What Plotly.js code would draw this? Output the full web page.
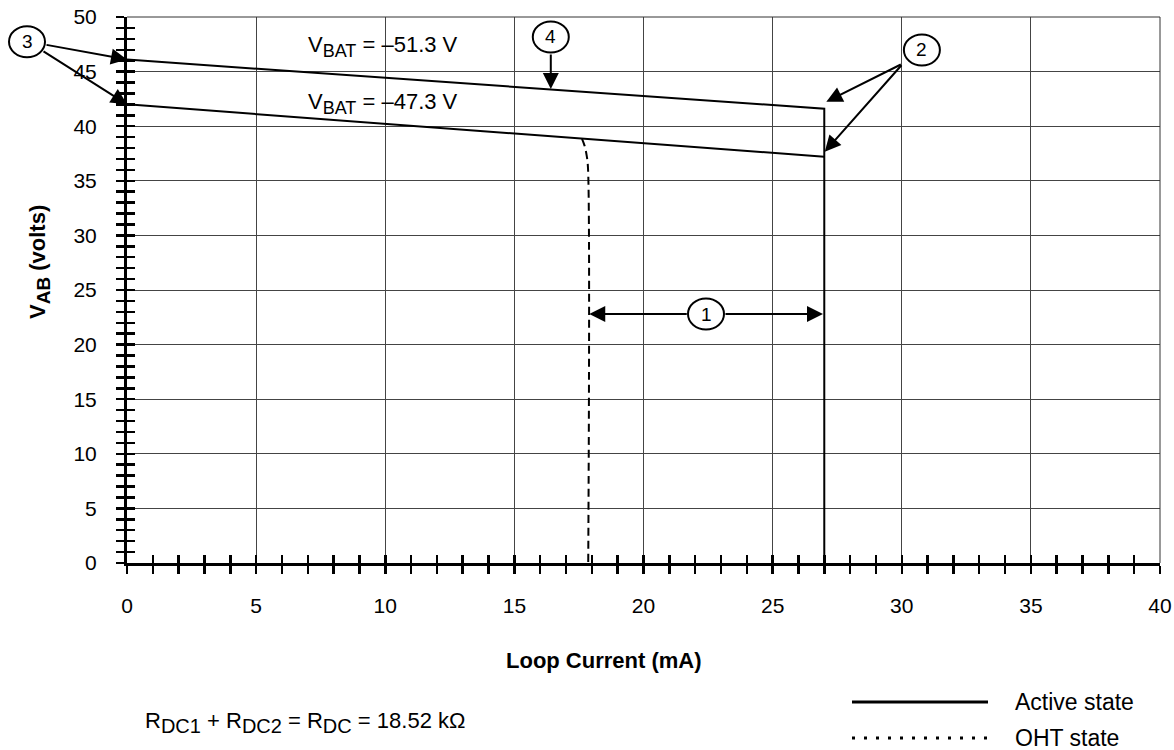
<!DOCTYPE html>
<html>
<head>
<meta charset="utf-8">
<script src="https://cdn.plot.ly/plotly-3.0.1.min.js"></script>
<style>html,body{margin:0;padding:0;background:#fff;}#chart{width:1174px;height:750px;}</style>
</head>
<body>
<div id="chart"></div>
<script>
// ---- data ----
const activeUpperX = [0, 27, 27];
const activeUpperY = [46.1, 41.6, 0];
const activeLowerX = [0, 27];
const activeLowerY = [42.0, 37.2];
const ohtX = [17.62, 17.72, 17.8, 17.85, 17.86];
const ohtY = [38.85, 38.2, 37.3, 36.2, 0];
const xTickVals = [0, 5, 10, 15, 20, 25, 30, 35, 40];
const yTickVals = [0, 5, 10, 15, 20, 25, 30, 35, 40, 45, 50];
const SUB = (t, px) => "<sub><span style='font-size:" + px + "px'>" + t + "</span></sub>";
const vbatLabels = ["V" + SUB("BAT", 18) + " = \u201351.3 V", "V" + SUB("BAT", 18) + " = \u201347.3 V"];
const legendLabels = ["Active state", "OHT state"];
const footnote = "R" + SUB("DC1", 20) + " + R" + SUB("DC2", 20) + " = R" + SUB("DC", 20) + " = 18.52 k\u03A9";
const xTitle = "<b>Loop Current (mA)</b>";
const yTitle = "<b>V" + SUB("AB", 19) + " (volts)</b>";

const FONT = "Liberation Sans, Arial, Helvetica, sans-serif";
const INK = "#000";

const traces = [
  {x: activeUpperX, y: activeUpperY, mode: "lines", line: {color: INK, width: 2}, showlegend: false, hoverinfo: "skip"},
  {x: activeLowerX, y: activeLowerY, mode: "lines", line: {color: INK, width: 2}, showlegend: false, hoverinfo: "skip"},
  {x: ohtX, y: ohtY, mode: "lines", line: {color: INK, width: 2, dash: "8px,5px", shape: "spline"}, showlegend: false, hoverinfo: "skip"},
  {x: [], y: [], xaxis: "x2", yaxis: "y2", showlegend: false, hoverinfo: "skip"}
];

function circleShape(xref, xc, yc) {
  return {type: "circle", xref: xref, yref: "y", xsizemode: "pixel", ysizemode: "pixel",
    xanchor: xc, yanchor: yc, x0: -18, x1: 18, y0: -15.5, y1: 15.5,
    line: {color: INK, width: 2}, fillcolor: "#fff", layer: "above"};
}
function numLabel(xref, xc, yc, t) {
  return {xref: xref, yref: "y", x: xc, y: yc, text: t, showarrow: false,
    font: {family: FONT, size: 19, color: INK}, xanchor: "center", yanchor: "middle"};
}
function arrow(x, y, ax, ay) {
  return {xref: "x", yref: "y", x: x, y: y, ax: ax, ay: ay, text: "", showarrow: true,
    arrowhead: 2, arrowsize: 1.6, arrowwidth: 2, arrowcolor: INK, standoff: 0, startstandoff: 0};
}

const circles = [
  {xref: "x", x: 22.42, y: 22.8, t: "1"},
  {xref: "x", x: 30.78, y: 46.98, t: "2"},
  {xref: "paper", x: -0.0968, y: 47.74, t: "3"},
  {xref: "x", x: 16.41, y: 48.17, t: "4"}
];

const shapes = [
  {type: "line", xref: "paper", yref: "paper", x0: 0, x1: 1, y0: 1, y1: 1, line: {color: "#333", width: 1}},
  {type: "line", xref: "paper", yref: "paper", x0: 1, x1: 1, y0: 0, y1: 1, line: {color: "#333", width: 1}},
  // legend samples
  {type: "line", xref: "paper", yref: "paper", x0: (852-127)/1033, x1: (988-127)/1033, y0: (563-702)/546, y1: (563-702)/546, line: {color: INK, width: 3}},
  {type: "line", xref: "paper", yref: "paper", x0: (852-127)/1033, x1: (990-127)/1033, y0: (563-738)/546, y1: (563-738)/546, line: {color: INK, width: 3, dash: "3px,9px"}}
];
circles.forEach(c => shapes.push(circleShape(c.xref, c.x, c.y)));

const annotations = [
  // circle 3 arrows
  arrow(0, 46.1, -82, -15),
  arrow(0, 42.0, -85, -54),
  // circle 2 arrows
  arrow(27.08, 42.24, 76, -38),
  arrow(27.02, 37.66, 78, -88),
  // circle 4 arrow
  arrow(16.41, 43.4, 0, -36),
  // circle 1 double arrow
  arrow(17.9, 22.8, 99, 0),
  arrow(26.95, 22.8, -99, 0),
  // VBAT labels
  {xref: "x", yref: "y", x: 6.93, y: 47.3, text: vbatLabels[0], showarrow: false, xanchor: "left", yanchor: "middle", font: {family: FONT, size: 22, color: INK}},
  {xref: "x", yref: "y", x: 6.93, y: 42.1, text: vbatLabels[1], showarrow: false, xanchor: "left", yanchor: "middle", font: {family: FONT, size: 22, color: INK}},
  // axis titles
  {xref: "paper", yref: "paper", x: 0.4618, y: -0.1777, text: xTitle, showarrow: false, xanchor: "center", yanchor: "middle", font: {family: FONT, size: 22, color: INK}},
  {xref: "paper", yref: "paper", x: -0.0842, y: 0.5513, text: yTitle, showarrow: false, textangle: -90, xanchor: "center", yanchor: "middle", font: {family: FONT, size: 22, color: INK}},
  // legend text
  {xref: "paper", yref: "paper", x: (1013-127)/1033, y: (563-702)/546, text: legendLabels[0], showarrow: false, xanchor: "left", yanchor: "middle", font: {family: FONT, size: 23, color: INK}},
  {xref: "paper", yref: "paper", x: (1013-127)/1033, y: (563-738)/546, text: legendLabels[1], showarrow: false, xanchor: "left", yanchor: "middle", font: {family: FONT, size: 23, color: INK}},
  // footnote
  {xref: "paper", yref: "paper", x: (143-127)/1033, y: (563-722)/546, text: footnote, showarrow: false, xanchor: "left", yanchor: "middle", font: {family: FONT, size: 22, color: INK}}
];
circles.forEach(c => annotations.push(numLabel(c.xref, c.x, c.y, c.t)));

const layout = {
  width: 1174, height: 750,
  margin: {l: 127, r: 14, t: 17, b: 187},
  paper_bgcolor: "#fff", plot_bgcolor: "#fff",
  font: {family: FONT, size: 21, color: INK},
  showlegend: false,
  xaxis: {
    range: [0, 40], tickmode: "array", tickvals: xTickVals, ticktext: xTickVals.map(String),
    showgrid: true, gridcolor: "#444", gridwidth: 1, zeroline: false,
    showline: true, linecolor: INK, linewidth: 3,
    ticks: "outside", ticklen: 8, tickwidth: 2.5, tickcolor: INK,
    minor: {dtick: 1, ticks: "outside", ticklen: 8, tickwidth: 2.5, tickcolor: INK, showgrid: false},
    ticklabelstandoff: 14, tickfont: {family: FONT, size: 21, color: INK}, fixedrange: true
  },
  yaxis: {
    range: [0, 50], tickmode: "array", tickvals: yTickVals, ticktext: yTickVals.map(String),
    showgrid: true, gridcolor: "#444", gridwidth: 1, zeroline: false,
    showline: true, linecolor: INK, linewidth: 3,
    ticks: "outside", ticklen: 8, tickwidth: 2.5, tickcolor: INK,
    minor: {dtick: 1, ticks: "outside", ticklen: 8, tickwidth: 2.5, tickcolor: INK, showgrid: false},
    ticklabelstandoff: 15, tickfont: {family: FONT, size: 21, color: INK}, fixedrange: true
  },
  xaxis2: {
    overlaying: "x", anchor: "y", side: "bottom", range: [0, 40], dtick: 1, tick0: 0,
    ticks: "inside", ticklen: 8, tickwidth: 2.5, tickcolor: INK,
    showticklabels: false, showgrid: false, zeroline: false, showline: false, fixedrange: true
  },
  yaxis2: {
    overlaying: "y", anchor: "x", side: "left", range: [0, 50], dtick: 1, tick0: 0,
    ticks: "inside", ticklen: 8, tickwidth: 2.5, tickcolor: INK,
    showticklabels: false, showgrid: false, zeroline: false, showline: false, fixedrange: true
  },
  shapes: shapes,
  annotations: annotations
};

Plotly.newPlot("chart", traces, layout, {displayModeBar: false, staticPlot: true});
</script>
</body>
</html>
